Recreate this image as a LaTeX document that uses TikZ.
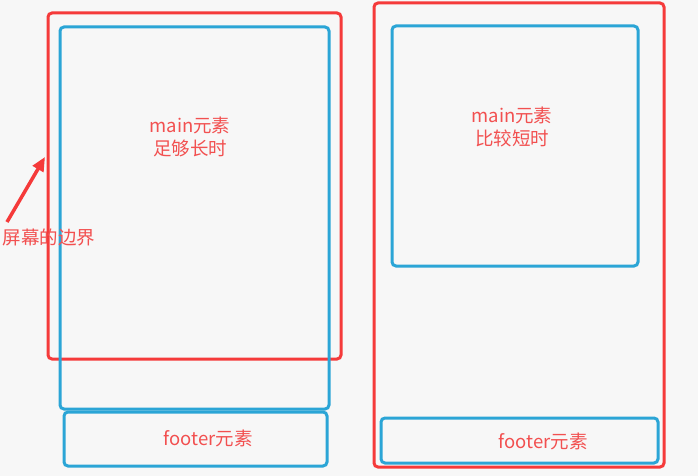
\documentclass[tikz,border=0pt]{standalone}
\usepackage{fontspec}
\setmainfont{Noto Sans CJK SC}
\usetikzlibrary{arrows.meta}
\definecolor{bg}{HTML}{F7F7F7}
\definecolor{scrred}{HTML}{F53A3A}
\definecolor{elblue}{HTML}{2BA5D6}
\definecolor{txtred}{HTML}{F25050}
\tikzset{
  screen/.style={draw=scrred, line width=3pt, rounded corners=4pt},
  elem/.style={draw=elblue, line width=3pt, rounded corners=4pt},
  lbl/.style={text=txtred, font=\fontsize{18.5}{23}\selectfont, align=center, inner sep=0pt}
}
\begin{document}
\begin{tikzpicture}[x=1pt,y=-1pt]
\fill[bg] (0,0) rectangle (698,476);
\useasboundingbox (0,0) rectangle (698,476);
% left
\draw[screen] (48,13) rectangle (341,359);
\draw[elem] (60,27) rectangle (329,409);
\draw[elem] (64,412) rectangle (327,466);
\node[lbl] (lm) at (190,137) {main元素\\足够长时};
\node[lbl] (lf) at (208,438) {footer元素};
\node[lbl] (sb) at (49,237) {屏幕的边界};
\coordinate (tail) at (7,222);
\coordinate (head) at (45,157);
\draw[draw=scrred, line width=3.5pt, -{Triangle[length=14pt,width=12pt]}] (tail) -- (head);
% right
\draw[screen] (374,3) rectangle (664,467);
\draw[elem] (392,26) rectangle (638,266);
\draw[elem] (381,418) rectangle (658,463);
\node[lbl] (rm) at (512,127) {main元素\\比较短时};
\node[lbl] (rf) at (543,441) {footer元素};
\end{tikzpicture}
\end{document}
